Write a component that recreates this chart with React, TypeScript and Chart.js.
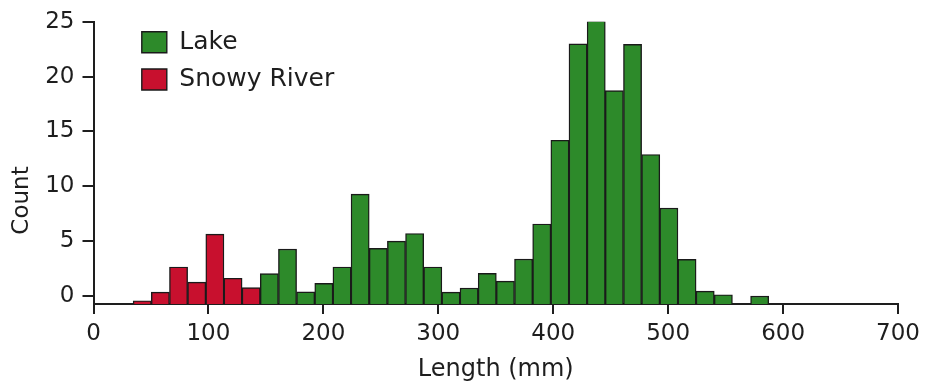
import { useEffect, useRef } from 'react';
import { Chart, registerables } from 'chart.js';

Chart.register(...registerables);

// Histogram bin centres (mm), bin width ~15.8 mm
const BIN_CENTERS = [
  42.4, 58.2, 74.0, 89.8, 105.6, 121.4, 137.2, 153.0, 168.8, 184.6, 200.4, 216.2,
  232.0, 247.8, 263.6, 279.4, 295.2, 311.0, 326.8, 342.6, 358.4, 374.2, 390.0,
  405.8, 421.6, 437.4, 453.2, 469.0, 484.8, 500.6, 516.4, 532.2, 548.0, 563.8, 579.6,
];

// Snowy River occupies the first 7 bins, Lake the remaining 28
const SNOWY_RIVER_COUNTS = [-0.45, 0.33, 2.63, 1.24, 5.62, 1.6, 0.75];
const LAKE_COUNTS = [
  2.02, 4.26, 0.36, 1.13, 2.63, 9.27, 4.32, 4.98, 5.68, 2.63, 0.33, 0.7, 2.05, 1.33,
  3.35, 6.55, 14.19, 22.98, 25.1, 18.72, 22.94, 12.89, 8.0, 3.32, 0.42, 0.09, null, -0.03,
];

const SERIES_NAMES = ['Lake', 'Snowy River'];
const Y_TICKS = [0, 5, 10, 15, 20, 25];
const X_MIN = 0;
const X_MAX = 700;
const X_STEP = 100;
const Y_MIN = -0.75;
const Y_MAX = 25;

const FONT = 'DejaVu Sans';
const INK = '#1e1e1e';
const GREEN = '#2d8a2a';
const RED = '#c8102e';
const EDGE = '#1a1a1a';

const LEGEND_DX = 36;
const LEGEND_DY = 17.4;

const legendOffset = {
  id: 'legendOffset',
  afterLayout(chart: any) {
    const lg = chart.legend;
    if (lg) {
      lg.left += LEGEND_DX;
      lg.top += LEGEND_DY;
    }
  },
};

export default function App() {
  const ref = useRef<HTMLCanvasElement | null>(null);

  useEffect(() => {
    if (!ref.current) return;
    const riverBins = BIN_CENTERS.slice(0, SNOWY_RIVER_COUNTS.length);
    const lakeBins = BIN_CENTERS.slice(SNOWY_RIVER_COUNTS.length);

    const chart = new Chart(ref.current, {
      type: 'bar',
      data: {
        datasets: [
          {
            label: SERIES_NAMES[0],
            data: lakeBins.map((x, i) => ({ x, y: LAKE_COUNTS[i] })),
            backgroundColor: GREEN,
            borderColor: EDGE,
            borderWidth: 1.4,
            base: Y_MIN,
            grouped: false,
            barPercentage: 1,
            categoryPercentage: 1,
          } as any,
          {
            label: SERIES_NAMES[1],
            data: riverBins.map((x, i) => ({ x, y: SNOWY_RIVER_COUNTS[i] })),
            backgroundColor: RED,
            borderColor: EDGE,
            borderWidth: 1.4,
            base: Y_MIN,
            grouped: false,
            barPercentage: 1,
            categoryPercentage: 1,
          } as any,
        ],
      },
      options: {
        responsive: false,
        animation: false,
        devicePixelRatio: 1,
        layout: { padding: { top: 20, right: 27, bottom: 0, left: 0 } },
        scales: {
          x: {
            type: 'linear',
            min: X_MIN,
            max: X_MAX,
            offset: false,
            afterFit: (s: any) => {
              s.height = 77;
            },
            ticks: {
              stepSize: X_STEP,
              autoSkip: false,
              maxRotation: 0,
              padding: 6,
              color: INK,
              font: { family: FONT, size: 23 },
            },
            grid: {
              offset: false,
              drawOnChartArea: false,
              drawTicks: true,
              tickLength: 10,
              color: INK,
              lineWidth: 2,
            },
            border: { color: INK, width: 2 },
            title: {
              display: true,
              text: 'Length (mm)',
              color: INK,
              font: { family: FONT, size: 24, lineHeight: 0.9 },
              padding: 0,
            },
          },
          y: {
            type: 'linear',
            min: Y_MIN,
            max: Y_MAX,
            afterFit: (s: any) => {
              s.width = 60;
            },
            afterBuildTicks: (axis: any) => {
              axis.ticks = Y_TICKS.map((v) => ({ value: v }));
            },
            ticks: {
              padding: 8,
              color: INK,
              font: { family: FONT, size: 23 },
            },
            grid: {
              drawOnChartArea: false,
              drawTicks: true,
              tickLength: 11,
              color: INK,
              lineWidth: 2,
            },
            border: { color: INK, width: 2 },
          },
        },
        plugins: {
          tooltip: { enabled: false },
          title: {
            display: true,
            position: 'left',
            text: 'Count',
            color: INK,
            font: { family: FONT, size: 23, weight: 'normal', lineHeight: 1 },
            padding: { top: 10.5, bottom: 0 },
          },
          legend: {
            display: true,
            position: 'chartArea' as any,
            align: 'start',
            labels: {
              boxWidth: 25,
              boxHeight: 21,
              padding: 12.3,
              color: INK,
              font: { family: FONT, size: 25 },
            },
          },
        },
      } as any,
      plugins: [legendOffset],
    });

    return () => chart.destroy();
  }, []);

  return (
    <div style={{ position: 'absolute', left: 0, top: 0, width: 926, height: 381 }}>
      <canvas ref={ref} width={926} height={381} />
    </div>
  );
}
